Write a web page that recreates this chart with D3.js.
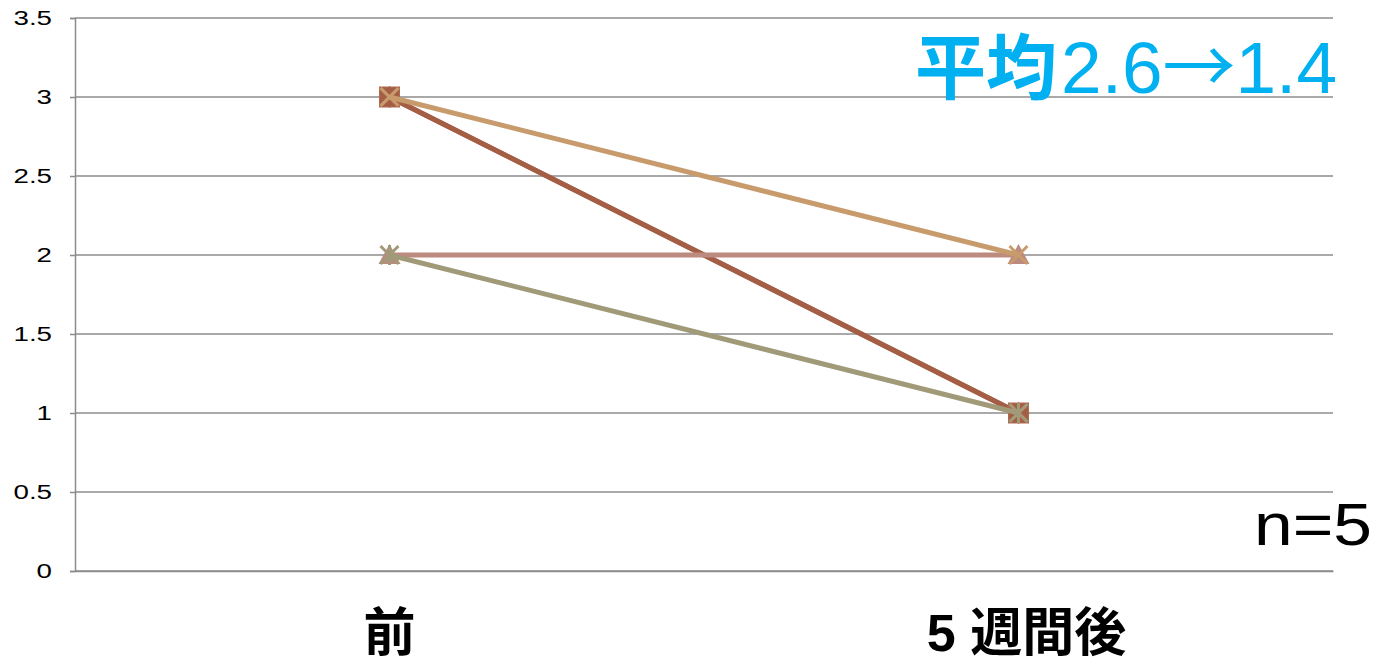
<!DOCTYPE html>
<html>
<head>
<meta charset="utf-8">
<script src="https://cdn.jsdelivr.net/npm/d3@7"></script>
<style>
  body { margin: 0; background: #fff; }
  text { font-family: "Liberation Sans", Arial, sans-serif; }
</style>
</head>
<body>
<div class="chart"></div>
<script>
var svgWidth = 1379;
var svgHeight = 665;

var margin = { top: 18, right: 46, bottom: 94, left: 75 };
var width = svgWidth - margin.left - margin.right;
var height = svgHeight - margin.top - margin.bottom;

// data
var categories = ["前", "5週間後"];
var series1 = [3, 1];
var series2 = [3, 1];
var series3 = [2, 2];
var series4 = [3, 2];
var series5 = [2, 1];
var yTicks = [0, 0.5, 1, 1.5, 2, 2.5, 3, 3.5];
var titleText = "平均";
var titleBefore = "2.6";
var titleAfter = "1.4";
var nText = "n=5";

var seriesList = [
  { values: series1, color: "#A85F47", marker: "diamond" },
  { values: series2, color: "#A45E45", marker: "square" },
  { values: series3, color: "#BC8A7E", marker: "triangle" },
  { values: series4, color: "#C89B6C", marker: "x" },
  { values: series5, color: "#A19A78", marker: "star" }
];

var svg = d3.select(".chart")
  .append("svg")
  .attr("width", svgWidth)
  .attr("height", svgHeight);

var chartGroup = svg.append("g")
  .attr("transform", `translate(${margin.left}, ${margin.top})`);

var xScale = d3.scaleBand()
  .domain(categories)
  .range([0, width]);

var yScale = d3.scaleLinear()
  .domain([0, 3.5])
  .range([height, 0]);

// gridlines
chartGroup.selectAll(".grid")
  .data(yTicks)
  .enter()
  .append("line")
  .attr("x1", 0)
  .attr("x2", width)
  .attr("y1", d => yScale(d))
  .attr("y2", d => yScale(d))
  .attr("stroke", "#8c8c8c")
  .attr("stroke-width", 1.5);

// y axis
var leftAxis = d3.axisLeft(yScale).tickValues(yTicks).tickSize(5)
  .tickFormat(d => String(d));
var yAxisG = chartGroup.append("g").call(leftAxis);
yAxisG.select(".domain").attr("stroke", "#8c8c8c").attr("stroke-width", 1.5);
yAxisG.selectAll(".tick line").attr("stroke", "#8c8c8c").attr("stroke-width", 1.5);
yAxisG.selectAll(".tick text")
  .attr("x", 0)
  .attr("transform", "translate(-23,0) scale(1.32,1)")
  .attr("font-size", 21)
  .attr("fill", "#000")
  .style("font-family", "'Liberation Sans', Arial, sans-serif");

// x axis
var bottomAxis = d3.axisBottom(xScale).tickSize(0).tickFormat("");
var xAxisG = chartGroup.append("g")
  .attr("transform", `translate(0, ${height})`)
  .call(bottomAxis);
xAxisG.select(".domain").attr("stroke", "#8c8c8c").attr("stroke-width", 1.5);
xAxisG.selectAll(".tick text")
  .attr("y", 80)
  .attr("dy", null)
  .attr("x", (d, i) => i === 1 ? 8 : 0)
  .attr("font-size", 52)
  .attr("font-weight", "bold")
  .attr("fill", "#000")
  .each(function(d) {
    var t = d3.select(this);
    var m = d.match(/^(\d+)(.*)$/);
    if (m) {
      t.append("tspan").style("font-family", "'Liberation Sans', Arial, sans-serif").text(m[1] + " ");
      t.append("tspan").style("font-family", "'Noto Sans CJK JP', sans-serif").text(m[2]);
    } else {
      t.append("tspan").style("font-family", "'Noto Sans CJK JP', sans-serif").text(d);
    }
  });

var cx = d => xScale(d) + xScale.bandwidth() / 2;

var line = d3.line()
  .x(d => cx(d.cat))
  .y(d => yScale(d.v));

seriesList.forEach(function(s) {
  var pts = categories.map((c, i) => ({ cat: c, v: s.values[i] }));
  chartGroup.append("path")
    .datum(pts)
    .attr("d", line)
    .attr("fill", "none")
    .attr("stroke", s.color)
    .attr("stroke-width", 5);

  var g = chartGroup.selectAll(null)
    .data(pts)
    .enter()
    .append("g")
    .attr("transform", d => `translate(${cx(d.cat)}, ${yScale(d.v)})`);

  if (s.marker === "square") {
    g.append("rect").attr("x", -10).attr("y", -10).attr("width", 20).attr("height", 20)
      .attr("fill", s.color).attr("stroke", "#b06a50").attr("stroke-width", 1);
    g.append("path").attr("d", "M-8,-8L8,8M8,-8L-8,8")
      .attr("stroke", "#c9946e").attr("stroke-width", 3);
  } else if (s.marker === "diamond") {
    g.append("path").attr("d", "M0,-11L11,0L0,11L-11,0Z").attr("fill", s.color);
  } else if (s.marker === "triangle") {
    g.append("path").attr("d", "M0,-11L11,9L-11,9Z").attr("fill", s.color);
  } else if (s.marker === "x") {
    g.append("path").attr("d", "M-9,-9L9,9M9,-9L-9,9")
      .attr("stroke", s.color).attr("stroke-width", 3);
  } else if (s.marker === "star") {
    g.append("path").attr("d", "M-9,-9L9,9M9,-9L-9,9M0,-10L0,10")
      .attr("stroke", s.color).attr("stroke-width", 3);
  }
});

// title
var title = svg.append("text")
  .attr("x", 1337)
  .attr("y", 93)
  .attr("text-anchor", "end")
  .attr("fill", "#00B0F0")
  .attr("font-size", 73);
title.append("tspan")
  .attr("font-weight", "bold")
  .attr("font-size", 71)
  .style("font-family", "'Noto Sans CJK JP', sans-serif")
  .text(titleText);
title.append("tspan")
  .attr("dx", 4)
  .style("font-family", "'Liberation Sans', Arial, sans-serif")
  .text(titleBefore);
title.append("tspan")
  .style("font-family", "'Noto Sans CJK JP', sans-serif")
  .text("→");
title.append("tspan")
  .style("font-family", "'Liberation Sans', Arial, sans-serif")
  .text(titleAfter);

svg.append("text")
  .attr("x", 1372)
  .attr("y", 545)
  .attr("text-anchor", "end")
  .attr("fill", "#000")
  .attr("font-size", 60)
  .attr("textLength", 118)
  .attr("lengthAdjust", "spacingAndGlyphs")
  .text(nText);
</script>
</body>
</html>
